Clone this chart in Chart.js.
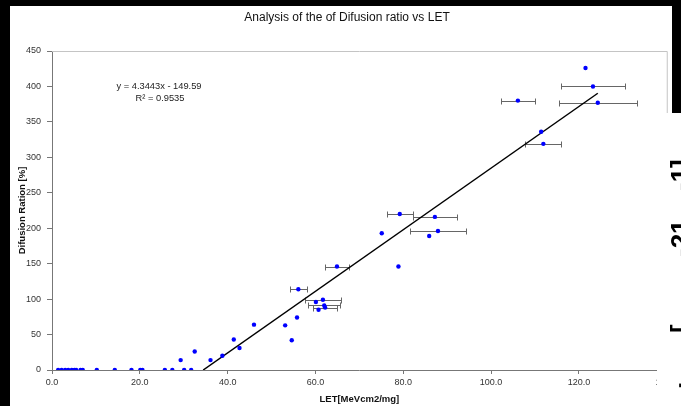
<!DOCTYPE html>
<html><head><meta charset="utf-8">
<script src="https://cdn.jsdelivr.net/npm/chart.js@4"></script>
<style>html,body{margin:0;padding:0;background:#000;}#wrap{width:681px;height:406px;}</style>
</head><body><div id="wrap"><canvas id="c" width="681" height="406"></canvas></div>
<script>
// LET values (MeV cm2/mg)
const letX = [1.4, 2.2, 3.0, 3.7, 4.5, 5.1, 5.5, 6.5, 7.0, 10.2, 14.3, 18.1, 20.1, 20.6, 25.7, 27.4, 30.1, 31.7,
  29.3, 32.5, 36.1, 38.8, 41.4, 42.7, 46.0, 53.1, 54.6, 55.8, 56.1, 60.1, 61.7, 62.0, 62.2, 60.7, 64.9,
  75.1, 78.9, 79.2, 87.2, 87.9, 85.9, 106.1, 111.4, 111.9, 121.5, 123.2, 124.3];
// Diffusion ratio (%)
const ratioY = [0, 0, 0, 0, 0, 0, 0, 0, 0, 0, 0, 0, 0, 0, 0, 0, 0, 0,
  14, 26, 14, 20, 43, 31, 64, 63, 42, 74, 114, 96, 99, 91, 88, 85, 146,
  193, 146, 220, 216, 196, 189, 380, 336, 319, 426, 400, 377];
// horizontal error (LET), 0 = none
const letErr = [0, 0, 0, 0, 0, 0, 0, 0, 0, 0, 0, 0, 0, 0, 0, 0, 0, 0,
  0, 0, 0, 0, 0, 0, 0, 0, 0, 0, 2.0, 0, 4.1, 3.7, 2.7, 0, 2.7,
  0, 0, 2.9, 5.0, 6.3, 0, 3.8, 0, 4.1, 0, 7.2, 8.9];
// linear trend line (from the chart's equation)
const trendSlope = 4.3443;
const trendIntercept = -149.59;
const trendX = [34.43, 124.3];
const chartTitle = 'Analysis of the of Difusion ratio vs LET';
const equationText = 'y = 4.3443x - 149.59';
const r2Text = 'R\u00B2 = 0.9535';

const points = letX.map((x, i) => ({x: x, y: ratioY[i]}));
const trend = trendX.map(x => ({x: x, y: trendSlope * x + trendIntercept}));

const FONT = '"Liberation Sans", Arial, sans-serif';

const framePlugin = {
  id: 'frame',
  beforeDraw(chart) {
    const ctx = chart.ctx;
    ctx.save();
    ctx.fillStyle = '#000';
    ctx.fillRect(0, 0, 681, 406);
    ctx.fillStyle = '#fff';
    ctx.fillRect(10, 6, 671, 400);
    ctx.fillStyle = '#000';
    ctx.fillRect(672, 0, 9, 113);
    ctx.restore();
  },
  beforeDatasetsDraw(chart) {
    const ctx = chart.ctx, a = chart.chartArea;
    ctx.save();
    ctx.strokeStyle = '#c4c4c4';
    ctx.lineWidth = 1;
    ctx.beginPath();
    ctx.moveTo(a.left, a.top + 0.5);
    ctx.lineTo(a.right + 0.5, a.top + 0.5);
    ctx.lineTo(a.right + 0.5, a.bottom);
    ctx.stroke();
    // error bars
    const xs = chart.scales.x, ys = chart.scales.y;
    ctx.strokeStyle = '#666';
    ctx.lineWidth = 1;
    letX.forEach((x, i) => {
      const e = letErr[i];
      if (!e) return;
      const x1 = Math.round(xs.getPixelForValue(x - e)) + 0.5;
      const x2 = Math.round(xs.getPixelForValue(x + e)) + 0.5;
      const y = Math.round(ys.getPixelForValue(ratioY[i])) + 0.5;
      ctx.beginPath();
      ctx.moveTo(x1, y); ctx.lineTo(x2, y);
      ctx.moveTo(x1, y - 3); ctx.lineTo(x1, y + 3);
      ctx.moveTo(x2, y - 3); ctx.lineTo(x2, y + 3);
      ctx.stroke();
    });
    ctx.restore();
  },
  afterDraw(chart) {
    const ctx = chart.ctx;
    ctx.save();
    // chart title
    ctx.fillStyle = '#111';
    ctx.font = '12px ' + FONT;
    ctx.textAlign = 'center';
    ctx.textBaseline = 'middle';
    ctx.fillText(chartTitle, 347, 18);
    // equation label
    ctx.fillStyle = '#222';
    ctx.font = '9.3px ' + FONT;
    ctx.fillText(equationText, 159, 86);
    ctx.fillText(r2Text, 160, 98);
    // overlapping white panel at right
    ctx.fillStyle = '#fff';
    ctx.fillRect(657, 113, 24, 293);
    ctx.fillStyle = '#000';
    ctx.font = 'bold 26px ' + FONT;
    ctx.textAlign = 'left';
    ctx.textBaseline = 'alphabetic';
    ctx.translate(689, 257);
    ctx.rotate(-Math.PI / 2);
    ctx.fillText('-21', 0, 0);
    ctx.fillText('.', 50, 0);
    ctx.fillText('-1]', 66, 0);
    ctx.fillText('[', -76, 0);
    ctx.fillText('.', -132, -6);
    ctx.restore();
  }
};

new Chart(document.getElementById('c'), {
  type: 'scatter',
  data: {
    datasets: [
      {
        data: points,
        backgroundColor: '#0000ff',
        borderColor: '#0000ff',
        borderWidth: 0,
        pointRadius: 2.2,
        pointHoverRadius: 2.2,
        order: 1
      },
      {
        type: 'line',
        data: trend,
        borderColor: '#000',
        borderWidth: 1.5,
        pointRadius: 0,
        fill: false,
        showLine: true,
        order: 2
      }
    ]
  },
  options: {
    responsive: false,
    devicePixelRatio: 1,
    animation: false,
    events: [],
    layout: { padding: { left: 8, right: 13, top: 51, bottom: 0 } },
    plugins: {
      legend: { display: false },
      tooltip: { enabled: false },
      title: { display: false }
    },
    scales: {
      x: {
        type: 'linear',
        min: 0, max: 140,
        afterFit(s) { s.height = 36; },
        ticks: {
          stepSize: 20,
          callback: v => v.toFixed(1),
          color: '#333',
          font: { family: FONT, size: 9 },
          padding: 3,
          maxRotation: 0
        },
        grid: { drawOnChartArea: false, drawTicks: true, tickLength: 4, tickColor: '#777' },
        border: { color: '#777', width: 1 },
        title: {
          display: true,
          text: 'LET[MeVcm2/mg]',
          color: '#111',
          font: { family: FONT, size: 9.5, weight: 'bold' },
          padding: { top: 0, bottom: 1 }
        }
      },
      y: {
        type: 'linear',
        min: 0, max: 450,
        afterFit(s) { s.width = 44; },
        ticks: {
          stepSize: 50,
          color: '#333',
          font: { family: FONT, size: 9 },
          padding: 6
        },
        grid: { drawOnChartArea: false, drawTicks: true, tickLength: 5, tickColor: '#777' },
        border: { color: '#777', width: 1 },
        title: {
          display: true,
          text: 'Difusion Ration [%]',
          color: '#111',
          font: { family: FONT, size: 9.5, weight: 'bold' },
          padding: { top: 9, bottom: 0 }
        }
      }
    }
  },
  plugins: [framePlugin]
});
</script>
</body></html>
